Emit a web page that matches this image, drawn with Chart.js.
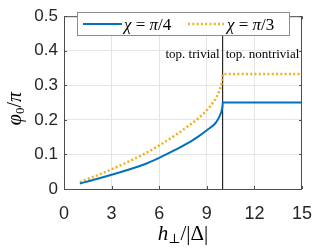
<!DOCTYPE html>
<html>
<head>
<meta charset="utf-8">
<script src="https://cdn.jsdelivr.net/npm/chart.js@4.4.1/dist/chart.umd.min.js"></script>
<style>
html, body { margin: 0; padding: 0; background: #fff; }
</style>
</head>
<body>
<canvas id="phaseChart" width="326" height="248"></canvas>
<script>
// values
const hPerp = [1, 2, 3, 4, 5, 6, 7, 8, 8.5, 9, 9.5, 9.6, 9.7, 9.8, 9.85, 9.9, 9.93, 9.97, 9.99, 10, 15]
const phiQuarter = [0.016, 0.028, 0.041, 0.055, 0.070, 0.090, 0.113, 0.138, 0.153, 0.170, 0.188, 0.194, 0.201, 0.210, 0.216, 0.221, 0.226, 0.234, 0.241, 0.25, 0.25]
const phiThird = [0.020, 0.038, 0.057, 0.078, 0.100, 0.126, 0.155, 0.188, 0.206, 0.228, 0.257, 0.265, 0.274, 0.285, 0.292, 0.299, 0.305, 0.314, 0.322, 0.333, 0.333]
const xTicks = [0, 3, 6, 9, 12, 15]
const yTicks = [0, 0.1, 0.2, 0.3, 0.4, 0.5]
const transitionH = 10
const seriesNames = ['\u03c7 = \u03c0/4', '\u03c7 = \u03c0/3']
const regionLabels = ['top. trivial', 'top. nontrivial']

const blue = '#0072BD'
const gold = '#EDB120'
const axisColor = '#4d4d4d'
const serif = '"Liberation Serif", "DejaVu Serif", serif'

function toPoints(xs, ys) {
    return xs.map(function(x, i) { return {x: x, y: ys[i]} })
}

// draws a string made of pieces: [text, italic, size, dy]
function drawPieces(ctx, pieces, x, y, align) {
    let total = 0
    for (let p of pieces) {
        ctx.font = (p[1] ? 'italic ' : '') + p[2] + 'px ' + serif
        total += ctx.measureText(p[0]).width
    }
    let cx = align == 'center' ? x - total / 2 : x
    for (let p of pieces) {
        ctx.font = (p[1] ? 'italic ' : '') + p[2] + 'px ' + serif
        ctx.fillText(p[0], cx, y + (p[3] || 0))
        cx += ctx.measureText(p[0]).width
    }
    return total
}

const extras = {
    id: 'extras',
    afterDatasetsDraw(chart) {
        const ctx = chart.ctx
        const a = chart.chartArea
        const xs = chart.scales.x
        const ys = chart.scales.y
        ctx.save()
        // box + inner ticks
        ctx.strokeStyle = axisColor
        ctx.lineWidth = 1
        ctx.beginPath()
        ctx.moveTo(a.left, a.top + 0.5)
        ctx.lineTo(a.right - 0.5, a.top + 0.5)
        ctx.lineTo(a.right - 0.5, a.bottom)
        for (let t of xTicks) {
            let px = Math.round(xs.getPixelForValue(t)) + 0.5
            ctx.moveTo(px, a.bottom); ctx.lineTo(px, a.bottom - 3)
            ctx.moveTo(px, a.top); ctx.lineTo(px, a.top + 3)
        }
        for (let t of yTicks) {
            let py = Math.round(ys.getPixelForValue(t)) + 0.5
            ctx.moveTo(a.left, py); ctx.lineTo(a.left + 3, py)
            ctx.moveTo(a.right, py); ctx.lineTo(a.right - 3, py)
        }
        ctx.stroke()

        // region labels
        ctx.fillStyle = '#000'
        ctx.font = '13px ' + serif
        ctx.textBaseline = 'alphabetic'
        let lx = xs.getPixelForValue(transitionH)
        ctx.textAlign = 'right'
        ctx.fillText(regionLabels[0], lx - 3, 58)
        ctx.textAlign = 'left'
        ctx.fillText(regionLabels[1], lx + 3, 58)

        // legend
        ctx.fillStyle = '#fff'
        ctx.fillRect(77.5, 12.5, 212, 23)
        ctx.strokeStyle = '#8c8c8c'
        ctx.strokeRect(77.5, 12.5, 212, 23)
        ctx.lineWidth = 2
        ctx.strokeStyle = blue
        ctx.beginPath(); ctx.moveTo(83, 24); ctx.lineTo(122, 24); ctx.stroke()
        ctx.strokeStyle = gold
        ctx.lineWidth = 2.5
        ctx.setLineDash([2, 2.3])
        ctx.beginPath(); ctx.moveTo(188, 24); ctx.lineTo(224, 24); ctx.stroke()
        ctx.setLineDash([])
        ctx.fillStyle = '#000'
        ctx.textAlign = 'left'
        drawPieces(ctx, [['\u03c7', true, 17], [' = ', false, 17], ['\u03c0', true, 17], ['/4', false, 17]], 124, 30, 'left')
        drawPieces(ctx, [['\u03c7', true, 17], [' = ', false, 17], ['\u03c0', true, 17], ['/3', false, 17]], 227, 30, 'left')

        // axis titles
        drawPieces(ctx, [['h', true, 21], ['\u22a5', false, 13, 3], ['/|\u0394|', false, 21]], (a.left + a.right) / 2, 240, 'center')
        ctx.translate(21, (a.top + a.bottom) / 2 + 6)
        ctx.rotate(-Math.PI / 2)
        drawPieces(ctx, [['\u03c6', true, 20], ['0', false, 13, 3], ['/', false, 20], ['\u03c0', true, 20]], 0, 0, 'center')
        ctx.restore()
    }
}

new Chart(document.getElementById('phaseChart'), {
    type: 'line',
    data: {
        datasets: [{
            label: seriesNames[0],
            data: toPoints(hPerp, phiQuarter),
            borderColor: blue,
            borderWidth: 2,
            pointRadius: 0,
            cubicInterpolationMode: 'monotone'
        }, {
            label: seriesNames[1],
            data: toPoints(hPerp, phiThird),
            borderColor: gold,
            borderWidth: 2.5,
            borderDash: [2, 2.3],
            pointRadius: 0,
            cubicInterpolationMode: 'monotone'
        }, {
            label: 'transition',
            data: [{x: transitionH, y: yTicks[0]}, {x: transitionH, y: yTicks[yTicks.length - 1]}],
            borderColor: '#000',
            borderWidth: 1,
            pointRadius: 0
        }]
    },
    plugins: [extras],
    options: {
        responsive: false,
        animation: false,
        devicePixelRatio: 1,
        layout: {padding: {top: 9, right: 21, left: 0, bottom: 0}},
        plugins: {legend: {display: false}, tooltip: {enabled: false}},
        scales: {
            x: {
                type: 'linear',
                min: 0, max: 15,
                afterFit: function(s) { s.height = 59 },
                afterBuildTicks: function(s) { s.ticks = xTicks.map(function(v) { return {value: v} }) },
                grid: {color: '#e5e5e5', drawTicks: false},
                border: {color: axisColor},
                ticks: {color: '#262626', font: {family: '"Liberation Sans", Arial, sans-serif', size: 18}, padding: 14, maxRotation: 0}
            },
            y: {
                min: 0, max: 0.5,
                afterFit: function(s) { s.width = 64 },
                afterBuildTicks: function(s) { s.ticks = yTicks.map(function(v) { return {value: v} }) },
                grid: {color: '#e5e5e5', drawTicks: false},
                border: {color: axisColor},
                ticks: {color: '#262626', font: {family: '"Liberation Sans", Arial, sans-serif', size: 17}, padding: 6,
                    callback: function(v) { return String(+v.toFixed(1)) }}
            }
        }
    }
})
</script>
</body>
</html>
